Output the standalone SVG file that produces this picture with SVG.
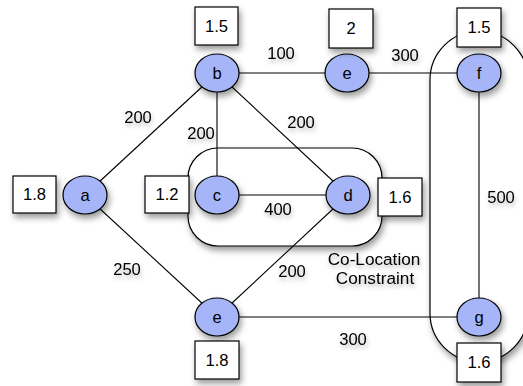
<svg xmlns="http://www.w3.org/2000/svg" width="523" height="386" viewBox="0 0 523 386">
<defs>
<filter id="sh" x="-30%" y="-30%" width="170%" height="170%">
<feDropShadow dx="2" dy="4" stdDeviation="3" flood-color="#000" flood-opacity="0.4"/>
</filter>
<filter id="tsh" x="-30%" y="-30%" width="160%" height="180%">
<feDropShadow dx="1" dy="3" stdDeviation="2" flood-color="#000" flood-opacity="0.3"/>
</filter>
</defs>
<style>
.grp{fill:#fff;stroke:#000;stroke-width:1.2;filter:url(#sh)}
.edge{stroke:#000;stroke-width:1.1;fill:none}
.node ellipse{fill:#a5b5f7;stroke:#000;stroke-width:1.2;filter:url(#sh)}
.box rect{fill:#fff;stroke:#000;stroke-width:1.2;filter:url(#sh)}
text{font-family:"Liberation Sans",Arial,sans-serif;font-size:16.6px;fill:#000;text-anchor:middle;dominant-baseline:central}
.lbl{filter:url(#tsh)}
.cl{font-size:17.2px}
</style>
<rect width="523" height="386" fill="#fff"/>
<g id="colocation">
<rect class="grp" x="188" y="148" width="194" height="98" rx="30" ry="30"/>
</g>
<g id="stadium">
<rect class="grp" x="430" y="31" width="98" height="331" rx="49" ry="49"/>
</g>
<g id="connectors">
<line class="edge" x1="85" y1="195" x2="217" y2="73"/>
<line class="edge" x1="85" y1="195" x2="217" y2="317"/>
<line class="edge" x1="217" y1="73" x2="217" y2="195"/>
<line class="edge" x1="217" y1="73" x2="348" y2="195"/>
<line class="edge" x1="217" y1="73" x2="348" y2="73"/>
<line class="edge" x1="348" y1="73" x2="479" y2="73"/>
<line class="edge" x1="217" y1="195" x2="348" y2="195"/>
<line class="edge" x1="348" y1="195" x2="217" y2="317"/>
<line class="edge" x1="217" y1="317" x2="479" y2="317"/>
<line class="edge" x1="479" y1="73" x2="479" y2="317"/>
</g>
<g id="edge-labels" class="lbl">
<text x="138" y="117">200</text>
<text x="201" y="133">200</text>
<text x="281" y="53">100</text>
<text x="405" y="55">300</text>
<text x="301" y="122">200</text>
<text x="278" y="209">400</text>
<text x="501" y="197">500</text>
<text x="127" y="269">250</text>
<text x="292" y="271">200</text>
<text x="353" y="339">300</text>
<text class="cl" x="374" y="259">Co-Location</text>
<text class="cl" x="375" y="278">Constraint</text>
</g>
<g id="node-a" class="node"><ellipse cx="85" cy="195" rx="22" ry="19"/><text x="85" y="195">a</text></g>
<g id="node-b" class="node"><ellipse cx="217" cy="73" rx="22" ry="19"/><text x="217" y="73">b</text></g>
<g id="node-c" class="node"><ellipse cx="217" cy="195" rx="22" ry="19"/><text x="217" y="195">c</text></g>
<g id="node-d" class="node"><ellipse cx="348" cy="195" rx="22" ry="19"/><text x="348" y="195">d</text></g>
<g id="node-e-top" class="node"><ellipse cx="347" cy="73" rx="22" ry="19"/><text x="347" y="73">e</text></g>
<g id="node-f" class="node"><ellipse cx="479" cy="73" rx="22" ry="19"/><text x="479" y="73">f</text></g>
<g id="node-g" class="node"><ellipse cx="479" cy="317" rx="22" ry="19"/><text x="479" y="317">g</text></g>
<g id="node-e-bottom" class="node"><ellipse cx="217" cy="317" rx="22" ry="19"/><text x="217" y="317">e</text></g>
<g id="box-a" class="box"><rect x="13" y="176" width="43" height="37"/><text x="34.5" y="194.5">1.8</text></g>
<g id="box-b" class="box"><rect x="195" y="7" width="43" height="38"/><text x="216.5" y="26">1.5</text></g>
<g id="box-c" class="box"><rect x="145" y="176" width="44" height="37"/><text x="167" y="194.5">1.2</text></g>
<g id="box-d" class="box"><rect x="378" y="178" width="44" height="38"/><text x="400" y="197">1.6</text></g>
<g id="box-e-top" class="box"><rect x="329" y="9" width="44" height="39"/><text x="351" y="28.5">2</text></g>
<g id="box-f" class="box"><rect x="457" y="8" width="44" height="39"/><text x="479" y="27.5">1.5</text></g>
<g id="box-g" class="box"><rect x="457" y="343" width="44" height="39"/><text x="479" y="362.5">1.6</text></g>
<g id="box-e-bottom" class="box"><rect x="195" y="341" width="44" height="38"/><text x="217" y="360">1.8</text></g>
</svg>
